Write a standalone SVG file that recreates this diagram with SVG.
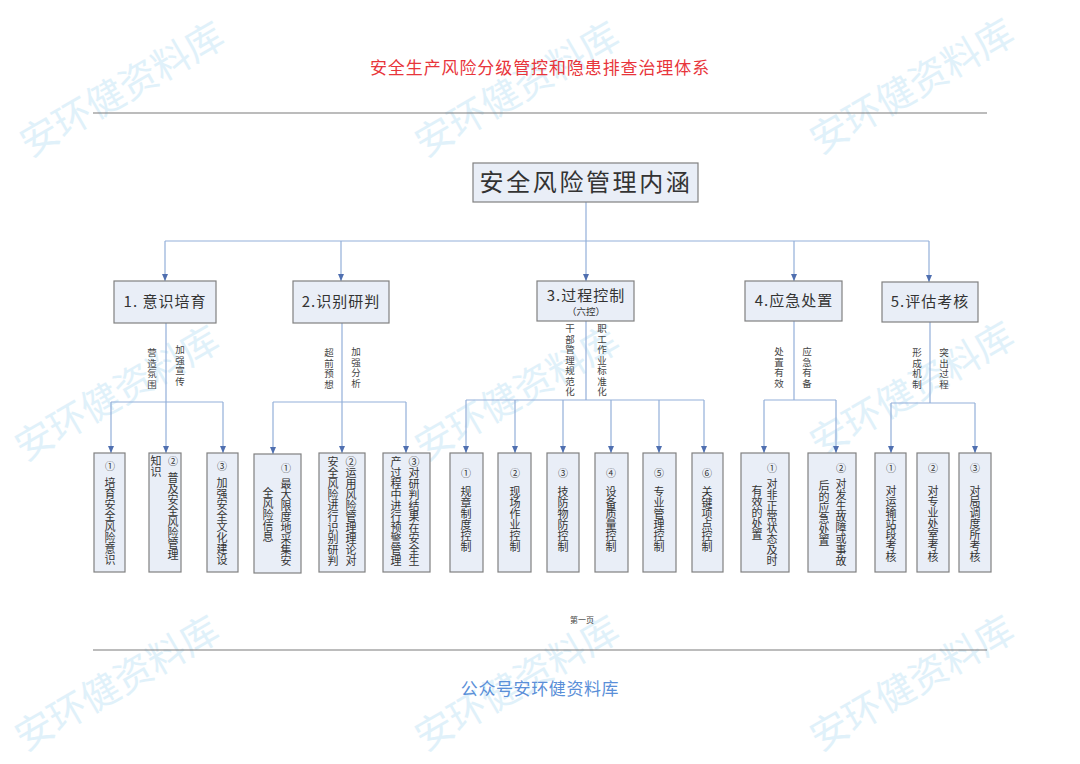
<svg xmlns="http://www.w3.org/2000/svg" width="1080" height="764" viewBox="0 0 1080 764">
<defs>
<style>
.wm{font-family:"Noto Sans CJK SC","Noto Sans",sans-serif;font-size:38px;fill:#d4ecf8;opacity:0.7}
.box{fill:#e9eef7;stroke:#808080;stroke-width:1.2}
.c{fill:none;stroke:#93afd9;stroke-width:1.2}
.ca{fill:none;stroke:#93afd9;stroke-width:1.2;marker-end:url(#ah)}
.t{font-family:"Noto Sans CJK SC","Noto Sans",sans-serif;fill:#333}
.v{font-family:"Noto Sans CJK SC","Noto Sans",sans-serif;fill:#333;font-size:11px;writing-mode:vertical-rl}
.lab{font-family:"Noto Sans CJK SC","Noto Sans",sans-serif;fill:#444;font-size:9.5px;letter-spacing:1px;writing-mode:vertical-rl}
.num{font-family:"Noto Sans CJK SC","Noto Sans",sans-serif;fill:#333;font-size:10px;text-anchor:middle}
</style>
<marker id="ah" markerUnits="userSpaceOnUse" markerWidth="7" markerHeight="6" refX="7" refY="3" orient="auto">
<path d="M0,0 L7,3 L0,6 z" fill="#4f6fb0"/>
</marker>
</defs>
<rect width="1080" height="764" fill="#ffffff"/>

<g id="watermarks">
<text class="wm" transform="translate(30,158) rotate(-30)">安环健资料库</text>
<text class="wm" transform="translate(425,158) rotate(-30)">安环健资料库</text>
<text class="wm" transform="translate(820,155) rotate(-30)">安环健资料库</text>
<text class="wm" transform="translate(25,462) rotate(-30)">安环健资料库</text>
<text class="wm" transform="translate(425,462) rotate(-30)">安环健资料库</text>
<text class="wm" transform="translate(820,458) rotate(-30)">安环健资料库</text>
<text class="wm" transform="translate(25,752) rotate(-30)">安环健资料库</text>
<text class="wm" transform="translate(425,752) rotate(-30)">安环健资料库</text>
<text class="wm" transform="translate(820,752) rotate(-30)">安环健资料库</text>
</g>

<g id="header">
<text x="540" y="74" text-anchor="middle" font-family="Noto Sans CJK SC, sans-serif" font-size="17" letter-spacing="0.9" fill="#e8353b">安全生产风险分级管控和隐患排查治理体系</text>
<line x1="93" y1="113" x2="987" y2="113" stroke="#7a7a7a" stroke-width="1.2"/>
</g>

<g id="connectors">
<path class="c" d="M586,202 V241 M165,241 H929"/>
<path class="ca" d="M165,241 V281"/>
<path class="ca" d="M341,241 V281"/>
<path class="ca" d="M586,241 V281"/>
<path class="ca" d="M794,241 V281"/>
<path class="ca" d="M929,241 V282"/>
<path class="c" d="M166,323 V402 M111,402 H223"/>
<path class="ca" d="M111,402 V453"/>
<path class="ca" d="M166,402 V453"/>
<path class="ca" d="M223,402 V453"/>
<path class="c" d="M342,323 V402 M273,402 H406"/>
<path class="ca" d="M273,402 V454"/>
<path class="ca" d="M342,402 V453"/>
<path class="ca" d="M406,402 V453"/>
<path class="c" d="M586,321 V400 M466,400 H704"/>
<path class="ca" d="M466,400 V453"/>
<path class="ca" d="M515,400 V453"/>
<path class="ca" d="M563,400 V453"/>
<path class="ca" d="M611,400 V453"/>
<path class="ca" d="M659,400 V453"/>
<path class="ca" d="M704,400 V453"/>
<path class="c" d="M794,321 V400 M764,400 H836"/>
<path class="ca" d="M764,400 V453"/>
<path class="ca" d="M836,400 V453"/>
<path class="c" d="M930,322 V403 M891,403 H975"/>
<path class="ca" d="M891,403 V453"/>
<path class="ca" d="M975,403 V453"/>
</g>

<g id="edge-labels">
<text class="lab" x="152" y="348">营造氛围</text>
<text class="lab" x="180" y="345">加强宣传</text>
<text class="lab" x="329" y="348">超前预想</text>
<text class="lab" x="356" y="347">加强分析</text>
<text class="lab" x="570" y="324">干部管理规范化</text>
<text class="lab" x="602" y="324">职工作业标准化</text>
<text class="lab" x="779" y="347">处置有效</text>
<text class="lab" x="807" y="347">应急有备</text>
<text class="lab" x="917" y="348">形成机制</text>
<text class="lab" x="944" y="348">突出过程</text>
</g>

<g id="root">
<rect class="box" x="473" y="163" width="225" height="39"/>
<text class="t" x="586" y="191" text-anchor="middle" font-size="24" letter-spacing="2.6">安全风险管理内涵</text>
</g>

<g id="n1">
<rect class="box" x="114" y="281" width="102" height="42"/>
<text class="t" x="165" y="307" text-anchor="middle" font-size="15" letter-spacing="1">1. 意识培育</text>
</g>
<g id="n2">
<rect class="box" x="293" y="281" width="96" height="42"/>
<text class="t" x="341" y="307" text-anchor="middle" font-size="15" letter-spacing="1">2.识别研判</text>
</g>
<g id="n3">
<rect class="box" x="537" y="281" width="97" height="40"/>
<text class="t" x="586" y="301" text-anchor="middle" font-size="15" letter-spacing="1">3.过程控制</text>
<text class="t" x="586" y="315" text-anchor="middle" font-size="9.5">（六控）</text>
</g>
<g id="n4">
<rect class="box" x="745" y="281" width="97" height="40"/>
<text class="t" x="794" y="306" text-anchor="middle" font-size="15" letter-spacing="1">4.应急处置</text>
</g>
<g id="n5">
<rect class="box" x="882" y="282" width="96" height="40"/>
<text class="t" x="930" y="307" text-anchor="middle" font-size="15" letter-spacing="1">5.评估考核</text>
</g>

<g id="n1-1">
<rect class="box" x="94" y="453" width="31" height="119"/>
<text class="num" x="110" y="470">①</text>
<text class="v" x="110" y="477">培育安全风险意识</text>
</g>
<g id="n1-2">
<rect class="box" x="149" y="453" width="32" height="119"/>
<text class="num" x="173" y="465">②</text>
<text class="v" x="173" y="472">普及安全风险管理</text>
<text class="v" x="156" y="455">知识</text>
</g>
<g id="n1-3">
<rect class="box" x="207" y="453" width="31" height="119"/>
<text class="num" x="222" y="470">③</text>
<text class="v" x="222" y="477">加强安全文化建设</text>
</g>

<g id="n2-1">
<rect class="box" x="254" y="454" width="47" height="119"/>
<text class="num" x="286" y="472">①</text>
<text class="v" x="286" y="478">最大限度地采集安</text>
<text class="v" x="268" y="487">全风险信息</text>
</g>
<g id="n2-2">
<rect class="box" x="319" y="453" width="46" height="119"/>
<text class="v" x="351" y="456">②运用风险管理理论对</text>
<text class="v" x="333" y="456">安全风险进行识别研判</text>
</g>
<g id="n2-3">
<rect class="box" x="383" y="453" width="47" height="119"/>
<text class="v" x="414" y="456">③对研判结果在安全生</text>
<text class="v" x="396" y="456">产过程中进行预警管理</text>
</g>

<g id="n3-1">
<rect class="box" x="450" y="453" width="33" height="119"/>
<text class="num" x="466" y="477">①</text>
<text class="v" x="466" y="486">规章制度控制</text>
</g>
<g id="n3-2">
<rect class="box" x="498" y="453" width="33" height="119"/>
<text class="num" x="515" y="477">②</text>
<text class="v" x="515" y="486">现场作业控制</text>
</g>
<g id="n3-3">
<rect class="box" x="547" y="453" width="32" height="119"/>
<text class="num" x="563" y="477">③</text>
<text class="v" x="563" y="486">技防物防控制</text>
</g>
<g id="n3-4">
<rect class="box" x="595" y="453" width="33" height="119"/>
<text class="num" x="611" y="477">④</text>
<text class="v" x="611" y="486">设备质量控制</text>
</g>
<g id="n3-5">
<rect class="box" x="643" y="453" width="33" height="119"/>
<text class="num" x="659" y="477">⑤</text>
<text class="v" x="659" y="486">专业管理控制</text>
</g>
<g id="n3-6">
<rect class="box" x="692" y="453" width="31" height="119"/>
<text class="num" x="707" y="477">⑥</text>
<text class="v" x="707" y="486">关键项点控制</text>
</g>

<g id="n4-1">
<rect class="box" x="741" y="453" width="48" height="119"/>
<text class="num" x="772" y="472">①</text>
<text class="v" x="772" y="478">对非正常状态及时</text>
<text class="v" x="757" y="485">有效的处置</text>
</g>
<g id="n4-2">
<rect class="box" x="808" y="453" width="48" height="119"/>
<text class="num" x="841" y="472">②</text>
<text class="v" x="841" y="478">对发生故障或事故</text>
<text class="v" x="824" y="480">后的应急处置</text>
</g>

<g id="n5-1">
<rect class="box" x="875" y="453" width="31" height="119"/>
<text class="num" x="891" y="472">①</text>
<text class="v" x="891" y="485">对运输站段考核</text>
</g>
<g id="n5-2">
<rect class="box" x="917" y="453" width="32" height="119"/>
<text class="num" x="933" y="472">②</text>
<text class="v" x="933" y="485">对专业处室考核</text>
</g>
<g id="n5-3">
<rect class="box" x="959" y="453" width="32" height="119"/>
<text class="num" x="975" y="472">③</text>
<text class="v" x="975" y="485">对局调度所考核</text>
</g>

<g id="footer">
<text x="582" y="623" text-anchor="middle" font-family="Noto Sans CJK SC, sans-serif" font-size="8" fill="#444">第一页</text>
<line x1="93" y1="650" x2="987" y2="650" stroke="#7a7a7a" stroke-width="1.2"/>
<text x="540" y="695" text-anchor="middle" font-family="Noto Sans CJK SC, sans-serif" font-size="17" letter-spacing="0.6" fill="#5a8fd8">公众号安环健资料库</text>
</g>
</svg>
